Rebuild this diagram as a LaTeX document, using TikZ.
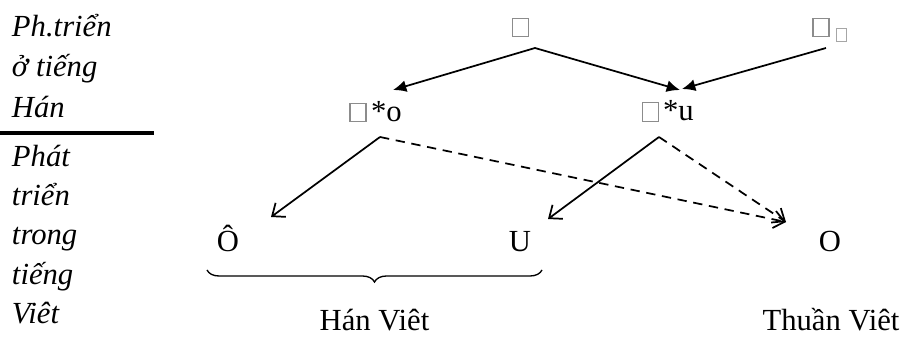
\documentclass[tikz,border=0pt]{standalone}
\usepackage{fontspec}
\setmainfont{Liberation Serif}
\usetikzlibrary{arrows.meta,decorations.pathreplacing}
\begin{document}
\begin{tikzpicture}[x=0.75pt,y=-0.75pt,
  every node/.style={inner sep=0pt,outer sep=0pt},
  side/.style={anchor=base west,font=\fontsize{23}{27}\selectfont\itshape},
  word/.style={anchor=base,font=\fontsize{23}{27}\selectfont},
  starw/.style={anchor=base west,font=\fontsize{23}{27}\selectfont},
  tofu/.style={draw=black!45,line width=0.8pt,minimum width=12pt,minimum height=14pt},
  tofusm/.style={draw=black!35,line width=0.7pt,minimum width=7.5pt,minimum height=10pt},
  solidarrow/.style={line width=1.3pt,-{Latex[length=10pt,width=9pt]}},
  openarrow/.style={line width=1.3pt,-{Straight Barb[length=8pt,width=13pt,line width=1.3pt]}},
  dasharrow/.style={openarrow,dash pattern=on 7pt off 5pt},
]
\useasboundingbox (0,0) rectangle (904,338);

% side captions
\node[side] (p1) at (12,37) {Ph.triển};
\node[side] (p2) at (12,77) {ở tiếng};
\node[side] (p3) at (12,118) {Hán};
\node[side] (q1) at (12,167) {Phát};
\node[side] (q2) at (12,206) {triển};
\node[side] (q3) at (12,245) {trong};
\node[side] (q4) at (12,285) {tiếng};
\node[side,text depth=0pt] (q5) at (12,324) {Viêt};
\coordinate (sepL) at (0,133);
\coordinate (sepR) at (154,133);
\draw[line width=3.6pt] (sepL) -- (sepR);

% top row
\node[tofu] (t1) at (520.5,27.5) {};
\node[tofu] (t2) at (821,27.5) {};
\node[tofusm] (t2s) at (841.5,35) {};
\coordinate (t1a) at (535,48);
\coordinate (t2a) at (826,48);

% middle row
\node[tofu] (m1box) at (358,112.5) {};
\node[starw] (m1) at (371,122) {*o};
\node[tofu] (m2box) at (650.5,112) {};
\node[starw] (m2) at (663,121) {*u};
\coordinate (m1in) at (393,90);
\coordinate (m2in) at (680,90);
\coordinate (m2in2) at (682,89);
\coordinate (m1a) at (380,137);
\coordinate (m2a) at (659,137);

% bottom row
\node[word] (o1) at (228,252) {Ô};
\node[word] (u1) at (520,252) {U};
\node[word] (o2) at (830,252) {O};
\coordinate (o1in) at (271,217);
\coordinate (u1in) at (548,219);
\coordinate (o2in) at (786,222);

\node[word,text depth=0pt] (hv) at (374.5,331) {Hán Viêt};
\node[word,text depth=0pt] (tv) at (831,331) {Thuần Viêt};

% brace under the Sino-Vietnamese readings
\coordinate (bl) at (207,270);
\coordinate (br) at (542,270);
\draw[line width=1pt,decorate,decoration={brace,mirror,amplitude=9pt}] (bl) -- (br);

% derivations
\draw[solidarrow] (t1a) -- (m1in);
\draw[solidarrow] (t1a) -- (m2in);
\draw[solidarrow] (t2a) -- (m2in2);
\draw[openarrow] (m1a) -- (o1in);
\draw[openarrow] (m2a) -- (u1in);
\draw[dasharrow] (m1a) -- (o2in);
\draw[dasharrow] (m2a) -- (o2in);
\end{tikzpicture}
\end{document}
